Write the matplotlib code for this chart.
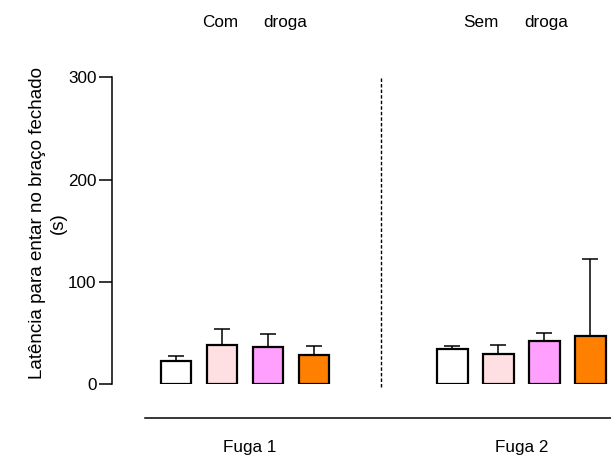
import numpy as np
import matplotlib
matplotlib.use("Agg")
import matplotlib.pyplot as plt

plt.rcParams["font.family"] = ["Liberation Sans", "DejaVu Sans"]
plt.rcParams["font.size"] = 12.3

# latency (s), mean and SEM per group
fuga1_mean = [22.8, 38.2, 35.9, 28.7]
fuga1_sem = [4.9, 15.3, 13.0, 8.8]
fuga2_mean = [34.6, 29.4, 42.4, 47.3]
fuga2_sem = [2.6, 8.8, 7.2, 75.3]
bar_colors = ["#FFFFFF", "#FFE0E2", "#FFA0FF", "#FF8000"]
group_labels = ["Fuga 1", "Fuga 2"]

fig = plt.figure(figsize=(6.11, 4.63), dpi=100)
ax = fig.add_axes([0.1828, 0.1706, 0.8172, 0.6624])

x1 = np.arange(4)
x2 = np.arange(4) + 6
width = 0.663
for xs, means, sems in [(x1, fuga1_mean, fuga1_sem), (x2, fuga2_mean, fuga2_sem)]:
    ax.errorbar(xs, means, yerr=[np.zeros(4), sems], fmt="none", ecolor="black",
                elinewidth=1.1, capsize=5.5, capthick=1.1, zorder=1)
    ax.bar(xs, means, width=width, color=bar_colors, edgecolor="black",
           linewidth=1.6, zorder=2)

# separator between the two conditions
ax.axvline(4.45, ymin=-0.01, ymax=1.0, color="black", ls=(0, (2.5, 1.5)),
           lw=1.0, clip_on=False)

ax.set_xlim(-1.393, 9.446)
ax.set_ylim(0, 300)
ax.set_yticks([0, 100, 200, 300])
ax.tick_params(axis="y", length=9.5, width=1.1, pad=1.5, labelsize=12.3)

ax.spines["top"].set_visible(False)
ax.spines["right"].set_visible(False)
ax.spines["left"].set_linewidth(1.1)
ax.spines["bottom"].set_position(("outward", 24.5))
ax.spines["bottom"].set_bounds(-0.669, 9.446)
ax.spines["bottom"].set_linewidth(1.1)

ax.set_xticks([1.6, 7.5])
ax.set_xticklabels(group_labels)
ax.tick_params(axis="x", length=0, pad=16, labelsize=12.3)

ax.set_ylabel("Latência para entar no braço fechado\n(s)", fontsize=13.5,
              linespacing=1.3)
ax.yaxis.set_label_coords(-0.089, 0.525)

ty = 1 - 27 / 463
fig.text(220 / 611, ty, "Com", ha="center", va="baseline")
fig.text(285 / 611, ty, "droga", ha="center", va="baseline")
fig.text(481 / 611, ty, "Sem", ha="center", va="baseline")
fig.text(546 / 611, ty, "droga", ha="center", va="baseline")

fig.savefig("out.png", dpi=100)
